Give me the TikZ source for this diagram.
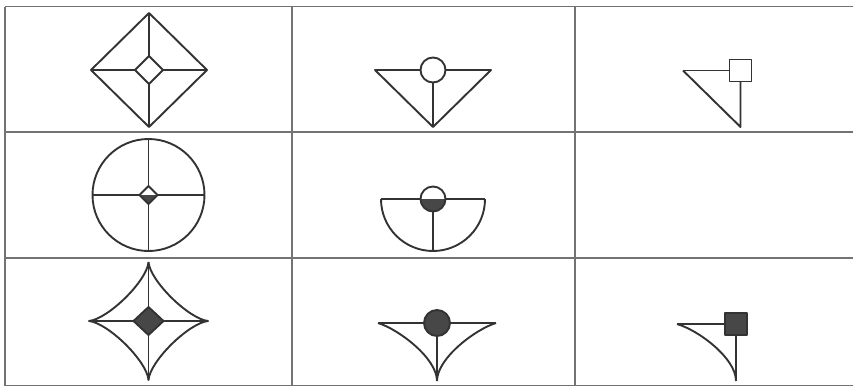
\documentclass[tikz,border=0pt]{standalone}
\begin{document}
\begin{tikzpicture}[x=1pt,y=-1pt,
  sym/.style={draw=black!80,line width=1.9pt,line join=round},
  dark/.style={fill=black!72},
  rule/.style={draw=black!55,line width=1.6pt}]

\useasboundingbox (0,0) rectangle (853,388);

% table
\draw[rule] (5,6.5) -- (853,6.5);
\draw[rule] (5,132) -- (853,132);
\draw[rule] (5,258) -- (853,258);
\draw[rule] (5,385.5) -- (853,385.5);
\draw[rule] (5,6.5) -- (5,385.5);
\draw[rule] (292,6.5) -- (292,385.5);
\draw[rule] (575,6.5) -- (575,385.5);

% row 1
\draw[sym] (149,13) -- (207,70) -- (149,127) -- (91,70) -- cycle;
\draw[sym] (149,56) -- (163,70) -- (149,84) -- (135,70) -- cycle;
\draw[sym] (149,13) -- (149,56) (149,84) -- (149,127);
\draw[sym] (91,70) -- (135,70) (163,70) -- (207,70);

\draw[sym] (420.5,70) -- (375,70) -- (433,127) -- (491,70) -- (445.5,70);
\draw[sym] (433,70) circle (12.5);
\draw[sym] (433,82.5) -- (433,127);

\draw[sym] (683,70.5) -- (729.5,70.5);
\draw[sym] (729.5,59.5) rectangle (751.5,81.5);
\draw[sym] (740.5,81.5) -- (740.5,127) -- (683,70.5);

% row 2
\draw[sym] (148.5,195) circle (56);
\draw[sym] (92.5,195) -- (139.5,195) (157.5,195) -- (204.5,195);
\draw[sym] (148.5,139) -- (148.5,186) (148.5,204) -- (148.5,251);
\fill[dark] (139.5,195) -- (148.5,204) -- (157.5,195) -- cycle;
\draw[sym] (148.5,186) -- (157.5,195) -- (148.5,204) -- (139.5,195) -- cycle;

\draw[sym] (381,199) arc[start angle=180,end angle=0,radius=52];
\draw[sym] (381,199) -- (420.5,199) (445.5,199) -- (485,199);
\fill[dark] (420.5,199) arc[start angle=180,end angle=0,radius=12.5] -- cycle;
\draw[sym] (433,199) circle (12.5);
\draw[sym] (433,211.5) -- (433,251);

% row 3
\draw[sym] (148.5,262) .. controls (150,281) and (189,319) .. (208,321)
  .. controls (189,323) and (150,361) .. (148.5,380)
  .. controls (147,361) and (108,323) .. (89,321)
  .. controls (108,319) and (147,281) .. (148.5,262);
\draw[sym] (148.5,262) -- (148.5,307) (148.5,335) -- (148.5,380);
\draw[sym] (89,321) -- (133.5,321) (163.5,321) -- (208,321);
\draw[sym,dark] (148.5,307) -- (163.5,321) -- (148.5,335) -- (133.5,321) -- cycle;

\draw[sym] (378,323) -- (424,323) (450,323) -- (496,323);
\draw[sym] (378,323) .. controls (398,329) and (437,358) .. (437,381);
\draw[sym] (496,323) .. controls (476,329) and (437,358) .. (437,381);
\draw[sym] (437,336) -- (437,381);
\draw[sym,dark] (437,323) circle (13);

\draw[sym] (677,324) -- (725,324);
\draw[sym] (677,324) .. controls (698,330) and (736,358) .. (736,381);
\draw[sym] (736,335) -- (736,381);
\draw[sym,dark] (725,313) rectangle (747,335);

\end{tikzpicture}
\end{document}
